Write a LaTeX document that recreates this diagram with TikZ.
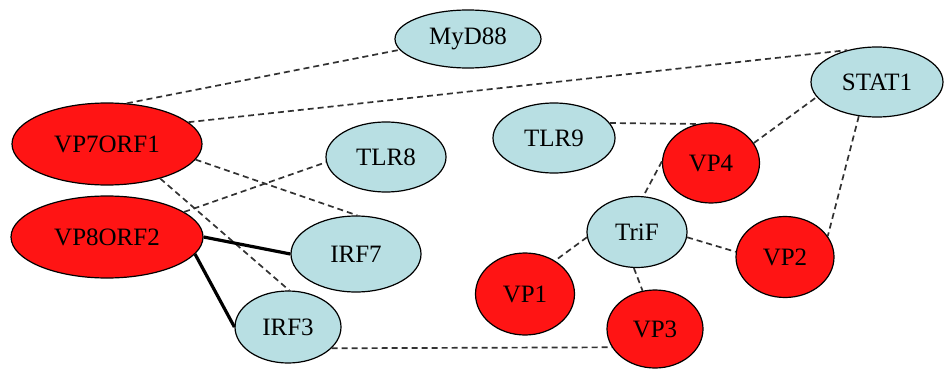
\documentclass[tikz,border=0pt]{standalone}
\usepackage{fontspec}
\setmainfont{Liberation Serif}
\usetikzlibrary{shapes.geometric}

\tikzset{
  prot/.style={ellipse,draw,line width=1.2pt,fill={rgb,255:red,184;green,223;blue,227},inner sep=0pt,font=\fontsize{25}{28}\selectfont},
  viral/.style={prot,fill={rgb,255:red,255;green,20;blue,20}},
  link/.style={dashed,dash pattern=on 6pt off 4pt,line width=1.7pt,draw={rgb,255:red,50;green,50;blue,50}},
  bond/.style={line width=3.2pt}
}

\begin{document}
\begin{tikzpicture}[x=1pt,y=-1pt]
      \useasboundingbox (0,0) rectangle (944,369);

      %viral proteins, left
      \node[viral,minimum width=190,minimum height=82] (vp7) at (107,144) {VP7ORF1};
      \node[viral,minimum width=192,minimum height=82] (vp8) at (107,237) {VP8ORF2};

      %host proteins
      \node[prot,minimum width=146,minimum height=58] (myd) at (468,39) {MyD88};
      \node[prot,minimum width=120,minimum height=70] (tlr8) at (386,157) {TLR8};
      \node[prot,minimum width=130,minimum height=76] (irf7) at (356,254) {IRF7};
      \node[prot,minimum width=106,minimum height=72] (irf3) at (288,327) {IRF3};
      \node[prot,minimum width=122,minimum height=70] (tlr9) at (554,138) {TLR9};
      \node[prot,minimum width=132,minimum height=70] (stat) at (877,82) {STAT1};
      \node[prot,minimum width=100,minimum height=71] (trif) at (637,232) {TriF};

      %viral proteins, right
      \node[viral,minimum width=97,minimum height=80] (vp4) at (711,163) {VP4};
      \node[viral,minimum width=98,minimum height=81] (vp2) at (785,257) {VP2};
      \node[viral,minimum width=99,minimum height=82] (vp1) at (525,294) {VP1};
      \node[viral,minimum width=96,minimum height=78] (vp3) at (655,329) {VP3};

      %VP7ORF1
      \draw[link] (vp7.64) -- (myd.189);
      \draw[link] (vp7.15) -- (stat.133);
      \draw[link] (vp7.-10) -- (irf7.88);
      \draw[link] (vp7.-33) -- (irf3.88);

      %VP8ORF2
      \draw[link] (vp8.18) -- (tlr8.185);
      \draw[bond] (vp8.east) -- (irf7.west);
      \draw[bond] (vp8.-11) -- (irf3.west);

      %IRF3
      \draw[link] (irf3.-26) -- (vp3.203);

      %TriF and STAT1
      \draw[link] (tlr9.15) -- (vp4.109);
      \draw[link] (vp4.25) -- (stat.194);
      \draw[link] (vp4.178) -- (trif.80);
      \draw[link] (stat.242) -- (vp2.26);
      \draw[link] (trif.-6) -- (vp2.174);
      \draw[link] (trif.186) -- (vp1.48);
      \draw[link] (trif.265) -- (vp3.108);
\end{tikzpicture}
\end{document}
